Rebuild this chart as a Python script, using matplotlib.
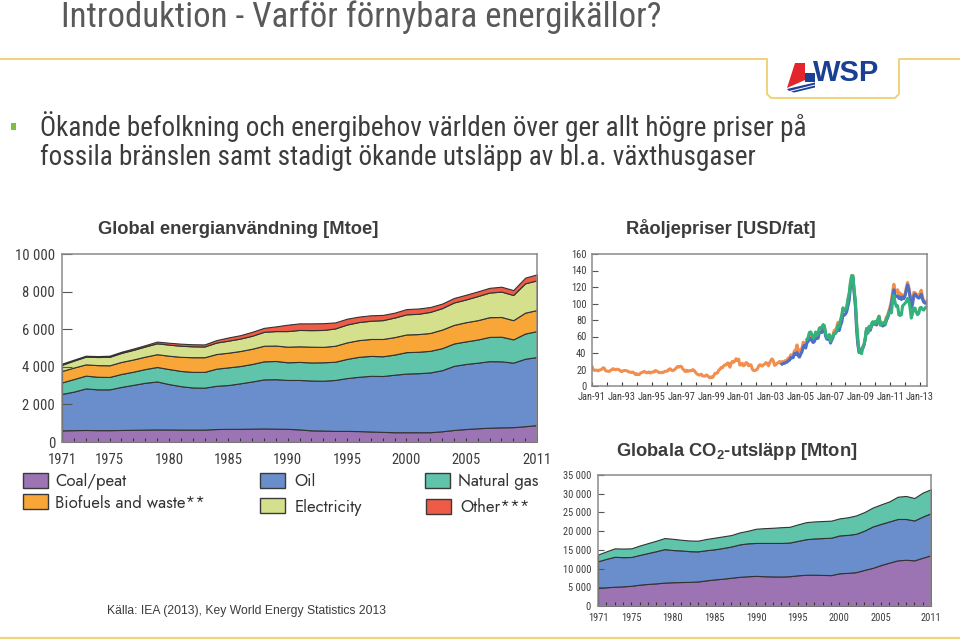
import numpy as np
import matplotlib.pyplot as plt
from matplotlib.patches import Rectangle, Polygon

W, H = 960, 641

# ---- Global energianvändning [Mtoe], 1971-2011 ----
years = list(range(1971, 2012))
coal_peat = [620, 630, 640, 630, 630, 640, 650, 660, 670, 665, 660, 660, 660, 690, 700, 700,
             710, 720, 710, 700, 670, 620, 610, 590, 590, 580, 560, 540, 520, 520, 520, 520,
             570, 640, 690, 730, 760, 780, 790, 840, 900]
oil = [1940, 2050, 2210, 2170, 2170, 2290, 2390, 2490, 2550, 2415, 2310, 2240, 2230, 2300, 2330,
       2420, 2510, 2610, 2630, 2600, 2630, 2650, 2650, 2710, 2810, 2890, 2960, 2970, 3060, 3120,
       3140, 3180, 3250, 3410, 3460, 3490, 3540, 3510, 3430, 3590, 3620]
natural_gas = [610, 670, 680, 670, 660, 690, 700, 730, 770, 800, 810, 830, 840, 910, 940, 920,
               930, 960, 970, 940, 960, 960, 980, 970, 1020, 1060, 1060, 1050, 1070, 1140, 1140,
               1150, 1170, 1190, 1200, 1230, 1290, 1310, 1240, 1340, 1380]
biofuels = [610, 610, 600, 620, 620, 640, 650, 660, 680, 710, 750, 780, 780, 780, 780, 800,
            810, 830, 820, 830, 830, 840, 820, 850, 880, 890, 900, 920, 930, 940, 940, 950,
            990, 990, 1020, 1030, 1050, 1050, 1020, 1110, 1120]
electricity = [330, 370, 410, 430, 450, 480, 510, 540, 580, 590, 590, 580, 570, 610, 640, 660,
               690, 740, 770, 830, 870, 880, 900, 920, 950, 960, 970, 1000, 1040, 1070, 1080,
               1120, 1140, 1190, 1210, 1280, 1310, 1350, 1340, 1560, 1580]
other = [60, 50, 50, 50, 60, 60, 70, 70, 90, 100, 110, 110, 110, 130, 170, 180, 210, 210, 250,
         340, 350, 360, 360, 320, 310, 290, 290, 280, 260, 280, 280, 260, 240, 240, 250, 250,
         250, 260, 260, 300, 320]
energy_labels = ["Coal/peat", "Oil", "Natural gas", "Biofuels and waste**", "Electricity", "Other***"]
energy_colors = ["#9c74b4", "#6a8ecb", "#5fc4a9", "#f8a637", "#d5e08c", "#ee5b47"]

# ---- Globala CO2-utsläpp [Mton], 1971-2011 ----
co2_coal = [4800, 5000, 5150, 5250, 5400, 5700, 5900, 6050, 6250, 6350, 6400, 6450, 6550, 6850,
            7100, 7300, 7550, 7800, 7950, 8050, 7950, 7900, 7880, 7950, 8200, 8350, 8350, 8300,
            8250, 8750, 8850, 9050, 9650, 10200, 10950, 11600, 12200, 12350, 12200, 12900, 13550]
co2_oil = [7150, 7600, 8000, 7800, 7700, 7950, 8250, 8600, 8950, 8600, 8450, 8200, 8050, 8050,
           8050, 8200, 8350, 8650, 8800, 8800, 8900, 8950, 8970, 9000, 9200, 9500, 9700, 9850,
           10000, 10100, 10150, 10250, 10500, 11050, 11000, 11000, 11050, 10900, 10650, 11000, 11250]
co2_gas = [1800, 2000, 2250, 2300, 2300, 2500, 2650, 2800, 2950, 3000, 2850, 2850, 2850, 3000,
           3100, 3100, 3050, 3200, 3350, 3800, 3950, 4050, 4200, 4200, 4400, 4550, 4550, 4550,
           4550, 4550, 4700, 4900, 4950, 5050, 5200, 5350, 5950, 6150, 6000, 6400, 6400]
co2_colors = ["#9c74b4", "#6a8ecb", "#5fc4a9"]

# ---- Råoljepriser [USD/fat], monthly ----
orange_start = 1991  # Jan-91
orange_price = [
    23.6, 19.5, 19.1, 19.2, 19.2, 18.4, 19.4, 19.6, 20.5, 22.2, 21.3, 18.4,
    18.2, 18.0, 17.7, 19.0, 19.8, 21.0, 20.2, 19.7, 20.3, 20.2, 19.4, 18.2,
    17.4, 18.5, 18.7, 18.7, 18.5, 17.7, 16.8, 16.8, 16.3, 16.9, 15.4, 13.9,
    14.9, 14.0, 13.8, 15.5, 16.4, 16.8, 17.8, 16.8, 15.9, 16.3, 17.0, 15.8,
    16.6, 17.1, 17.0, 18.7, 18.2, 17.3, 16.1, 16.4, 16.5, 16.3, 17.1, 17.9,
    18.0, 18.3, 20.4, 20.8, 19.0, 18.6, 19.6, 20.5, 22.4, 23.6, 22.9, 23.9,
    23.5, 20.9, 19.2, 17.6, 19.1, 17.6, 18.5, 18.6, 18.5, 19.8, 19.2, 17.1,
    15.4, 14.1, 13.3, 13.5, 14.4, 12.2, 12.1, 12.0, 13.4, 12.6, 11.0, 9.8,
    11.1, 10.3, 12.5, 15.3, 15.3, 15.9, 19.1, 20.3, 22.5, 22.1, 24.6, 25.6,
    25.5, 27.8, 27.5, 22.8, 27.6, 29.8, 28.7, 30.3, 33.1, 30.9, 32.6, 25.3,
    25.6, 27.5, 24.5, 25.7, 28.4, 27.7, 24.5, 25.7, 25.6, 20.5, 18.8, 18.7,
    19.4, 20.3, 23.7, 25.7, 25.4, 24.1, 25.7, 26.6, 28.4, 27.5, 24.3, 28.0,
    31.2, 32.8, 30.3, 25.0, 25.8, 27.6, 28.4, 29.8, 27.1, 29.6, 28.8, 29.8,
    31.2, 30.9, 33.8, 33.4, 37.9, 35.2, 38.2, 42.7, 43.2, 49.8, 43.1, 39.7,
    44.3, 45.5, 53.1, 51.9, 49.0, 55.6, 57.9, 63.8, 63.7, 59.4, 56.2, 57.6,
    63.9, 60.1, 62.1, 70.3, 70.0, 68.9, 73.7, 73.2, 62.9, 58.9, 59.1, 62.5,
    54.3, 57.8, 62.1, 67.5, 67.5, 71.3, 77.2, 70.8, 77.2, 82.4, 92.5, 91.4,
    91.9, 94.8, 103.3, 110.4, 124.0, 133.1, 133.9, 113.9, 99.1, 72.7, 53.2, 41.6,
    44.9, 43.2, 46.8, 50.2, 57.3, 68.6, 64.4, 72.5, 67.7, 73.2, 77.0, 74.7,
    76.2, 73.8, 78.8, 84.8, 75.9, 74.8, 75.6, 77.1, 78.4, 83.5, 86.1, 91.5,
    96.5, 103.7, 114.6, 123.3, 114.5, 113.9, 116.7, 110.2, 112.8, 109.6, 110.5, 107.9,
    110.7, 119.3, 125.5, 119.8, 110.3, 95.2, 102.6, 113.4, 113.0, 111.5, 109.5, 109.2,
    112.3, 116.1, 108.5, 102.3, 102.6, 102.9]
blue_start = 2003 + 9 / 12  # Oct-03
blue_price = [
    26.5, 27.5, 27.5,
    28.5, 28.9, 30.5, 31.3, 34.5, 34.0, 34.5, 39.6, 38.4, 40.6, 36.6, 35.0,
    38.4, 41.4, 47.4, 49.5, 46.0, 52.3, 54.0, 57.2, 57.8, 54.8, 52.7, 53.9,
    58.3, 57.5, 58.0, 64.9, 65.0, 64.9, 69.2, 69.8, 60.4, 56.8, 56.6, 58.7,
    52.0, 55.7, 59.0, 63.8, 64.5, 66.0, 69.5, 67.2, 73.2, 77.1, 86.7, 85.8,
    87.2, 90.0, 96.9, 103.7, 119.4, 127.6, 131.2, 113.4, 96.7, 67.4, 49.8, 40.5,
    43.9, 43.1, 45.6, 50.1, 57.6, 69.5, 65.0, 71.4, 67.7, 73.2, 76.9, 75.4,
    76.7, 74.2, 77.4, 83.9, 76.9, 74.2, 72.7, 73.6, 74.4, 79.7, 82.7, 87.4,
    92.4, 99.5, 108.6, 116.6, 108.5, 108.9, 108.9, 106.1, 108.1, 104.7, 107.9, 105.8,
    109.5, 116.3, 122.5, 117.4, 107.6, 94.4, 99.1, 109.1, 111.4, 109.3, 107.4, 106.5,
    107.9, 111.1, 105.5, 101.7, 100.4, 100.3]
green_start = 2005 + 5 / 12  # Jun-05
green_price = [
    56.5, 58.7, 64.9, 65.6, 62.4, 58.3, 59.4,
    65.5, 61.6, 62.9, 69.7, 70.9, 71.0, 74.4, 73.0, 63.8, 58.9, 59.1, 62.0,
    54.5, 59.3, 60.4, 63.9, 63.5, 67.5, 74.1, 72.4, 79.9, 85.8, 94.8, 91.7,
    93.0, 95.4, 105.5, 112.6, 125.4, 133.9, 133.4, 116.7, 104.1, 76.6, 57.3, 41.1,
    41.7, 39.1, 47.9, 49.7, 59.0, 69.6, 64.1, 71.1, 69.4, 75.7, 78.0, 74.5,
    78.3, 76.4, 81.2, 84.3, 73.7, 75.3, 76.3, 76.6, 75.2, 81.9, 84.3, 89.2,
    89.2, 88.6, 102.9, 109.5, 100.9, 96.3, 97.3, 86.3, 85.5, 86.3, 97.2, 98.6,
    100.3, 102.2, 106.2, 103.3, 94.7, 82.3, 87.9, 94.1, 94.5, 89.5, 86.5, 87.9,
    94.8, 95.3, 92.9, 92.0, 94.5, 95.8]

COND = ["Roboto Condensed", "Liberation Sans", "DejaVu Sans"]
SANS = ["Liberation Sans", "DejaVu Sans"]
FUT = ["Jost", "Lato", "DejaVu Sans"]
plt.rcParams["mathtext.fontset"] = "custom"
plt.rcParams["mathtext.rm"] = "Liberation Sans"
plt.rcParams["mathtext.bf"] = "Liberation Sans:bold"

GOLD = "#f0d27c"
TXT = "#3c3c3c"


def axes_px(fig, x0, y0, x1, y1):
    return fig.add_axes([x0 / W, 1 - y1 / H, (x1 - x0) / W, (y1 - y0) / H])


def space_fmt(v):
    return f"{int(v):,}".replace(",", " ")


def frame(ax):
    for s in ax.spines.values():
        s.set_color("#8a8a8a")
        s.set_linewidth(1.1)


def style_year_axis(ax, ymax, ystep, fs, xpad, ylen):
    ax.set_xlim(1971, 2011)
    ax.set_ylim(0, ymax)
    ax.set_xticks(years)
    shown = [1971, 1975, 1980, 1985, 1990, 1995, 2000, 2005, 2011]
    ax.set_xticklabels([str(y) if y in shown else "" for y in years])
    yt = list(range(0, ymax + 1, ystep))
    ax.set_yticks(yt)
    ax.set_yticklabels([space_fmt(v) for v in yt])
    ax.tick_params(axis="x", direction="in", length=3, width=0.8, color="#333333",
                   pad=xpad, labelsize=fs, labelcolor=TXT)
    ax.tick_params(axis="y", direction="in", length=ylen, width=0.8, color="#555555",
                   pad=5, labelsize=fs, labelcolor=TXT)
    for lab in ax.get_xticklabels() + ax.get_yticklabels():
        lab.set_family(COND)
    frame(ax)


fig = plt.figure(figsize=(W / 100, H / 100), dpi=100)

# background layer in pixel coordinates
bg = fig.add_axes([0, 0, 1, 1])
bg.set_xlim(0, W)
bg.set_ylim(H, 0)
bg.axis("off")

bg.plot([0, 767, 767, 771, 895, 899, 899, 960], [59, 59, 94, 98, 98, 94, 59, 59],
        color=GOLD, lw=1.4)
bg.plot([0, 960], [638, 638], color=GOLD, lw=1.6)

# logo
bg.add_patch(Polygon([(795, 63), (805, 63), (805, 80), (787, 88)], closed=True,
                     color="#e3262b", lw=0))
bg.add_patch(Polygon([(805, 72.5), (815, 72.5), (815, 82), (805, 82)], closed=True,
                     color="#1b3f94", lw=0))
bg.add_patch(Polygon([(787, 89), (815, 82.5), (815, 84.5), (789, 91)], closed=True,
                     color="#1b3f94", lw=0))
bg.add_patch(Polygon([(791, 91.5), (815, 85.5), (815, 87.5), (794, 92.5)], closed=True,
                     color="#1b3f94", lw=0))
bg.text(846, 73, "WSP", ha="center", va="center", fontsize=21, fontweight="bold",
        color="#1b3f94", family=SANS)

# headings
bg.text(61, 27, "Introduktion - Varför förnybara energikällor?", ha="left", va="baseline",
        fontsize=25, color="#595959", family=COND)
bg.add_patch(Rectangle((11, 123), 5, 7, color="#7ac143", lw=0))
bg.text(40, 127, "Ökande befolkning och energibehov världen över ger allt högre priser på",
        ha="left", va="center", fontsize=19.5, color=TXT, family=COND)
bg.text(40, 157, "fossila bränslen samt stadigt ökande utsläpp av bl.a. växthusgaser",
        ha="left", va="center", fontsize=19.5, color=TXT, family=COND)

bg.text(238, 229, "Global energianvändning [Mtoe]", ha="center", va="center",
        fontsize=13.2, fontweight="bold", color=TXT, family=SANS)
bg.text(721, 229, "Råoljepriser [USD/fat]", ha="center", va="center",
        fontsize=13.2, fontweight="bold", color=TXT, family=SANS)
bg.text(737, 451, r"Globala CO$_\mathbf{2}$-utsläpp [Mton]", ha="center", va="center",
        fontsize=13.2, fontweight="bold", color=TXT, family=SANS)
bg.text(107, 611, "Källa: IEA (2013), Key World Energy Statistics 2013", ha="left",
        va="center", fontsize=8.7, color=TXT, family=SANS)

# legend for energy chart
legend_items = [
    (0, 23, 473, 55, 482), (3, 23, 494, 55, 503),
    (1, 260, 473, 294, 482), (4, 260, 498, 295, 508),
    (2, 425, 473, 458, 482), (5, 426, 499, 460, 508),
]
for idx, bx, by, tx, ty in legend_items:
    bg.add_patch(Rectangle((bx, by), 25, 15, facecolor=energy_colors[idx],
                           edgecolor="#3a3a3a", lw=1.0))
    bg.text(tx, ty, energy_labels[idx], ha="left", va="center", fontsize=12,
            color="#333333", family=FUT)

# ---- energy stacked area ----
ax1 = axes_px(fig, 62, 254, 537, 442)
ax1.stackplot(years, coal_peat, oil, natural_gas, biofuels, electricity, other,
              colors=energy_colors, edgecolor="#333333", linewidth=0.8)
style_year_axis(ax1, 10000, 2000, 10.5, 8, 7)

# ---- oil prices ----
ax2 = axes_px(fig, 592, 254, 927, 386)
for start, vals, col in [(orange_start, orange_price, "#f08f4e"),
                         (blue_start, blue_price, "#4e6fc3"),
                         (green_start, green_price, "#34b27b")]:
    x = start + np.arange(len(vals)) / 12
    ax2.plot(x, vals, color=col, lw=2.2, solid_joinstyle="round")
ax2.set_xlim(1991, 2013.47)
ax2.set_ylim(0, 160)
ax2.set_xticks(range(1991, 2014))
ax2.set_xticklabels([f"Jan-{y % 100:02d}" if y % 2 == 1 else "" for y in range(1991, 2014)])
ax2.set_yticks(range(0, 161, 20))
ax2.tick_params(axis="x", direction="in", length=3, width=0.8, color="#333333",
                pad=4, labelsize=7.5, labelcolor=TXT)
ax2.tick_params(axis="y", direction="in", length=4, width=0.8, color="#555555",
                pad=4, labelsize=7.5, labelcolor=TXT)
for lab in ax2.get_xticklabels() + ax2.get_yticklabels():
    lab.set_family(COND)
frame(ax2)

# ---- CO2 stacked area ----
ax3 = axes_px(fig, 598, 475, 931, 606)
ax3.stackplot(years, co2_coal, co2_oil, co2_gas, colors=co2_colors,
              edgecolor="#333333", linewidth=0.8)
style_year_axis(ax3, 35000, 5000, 7.5, 5, 4)

fig.savefig("out.png", dpi=100)
